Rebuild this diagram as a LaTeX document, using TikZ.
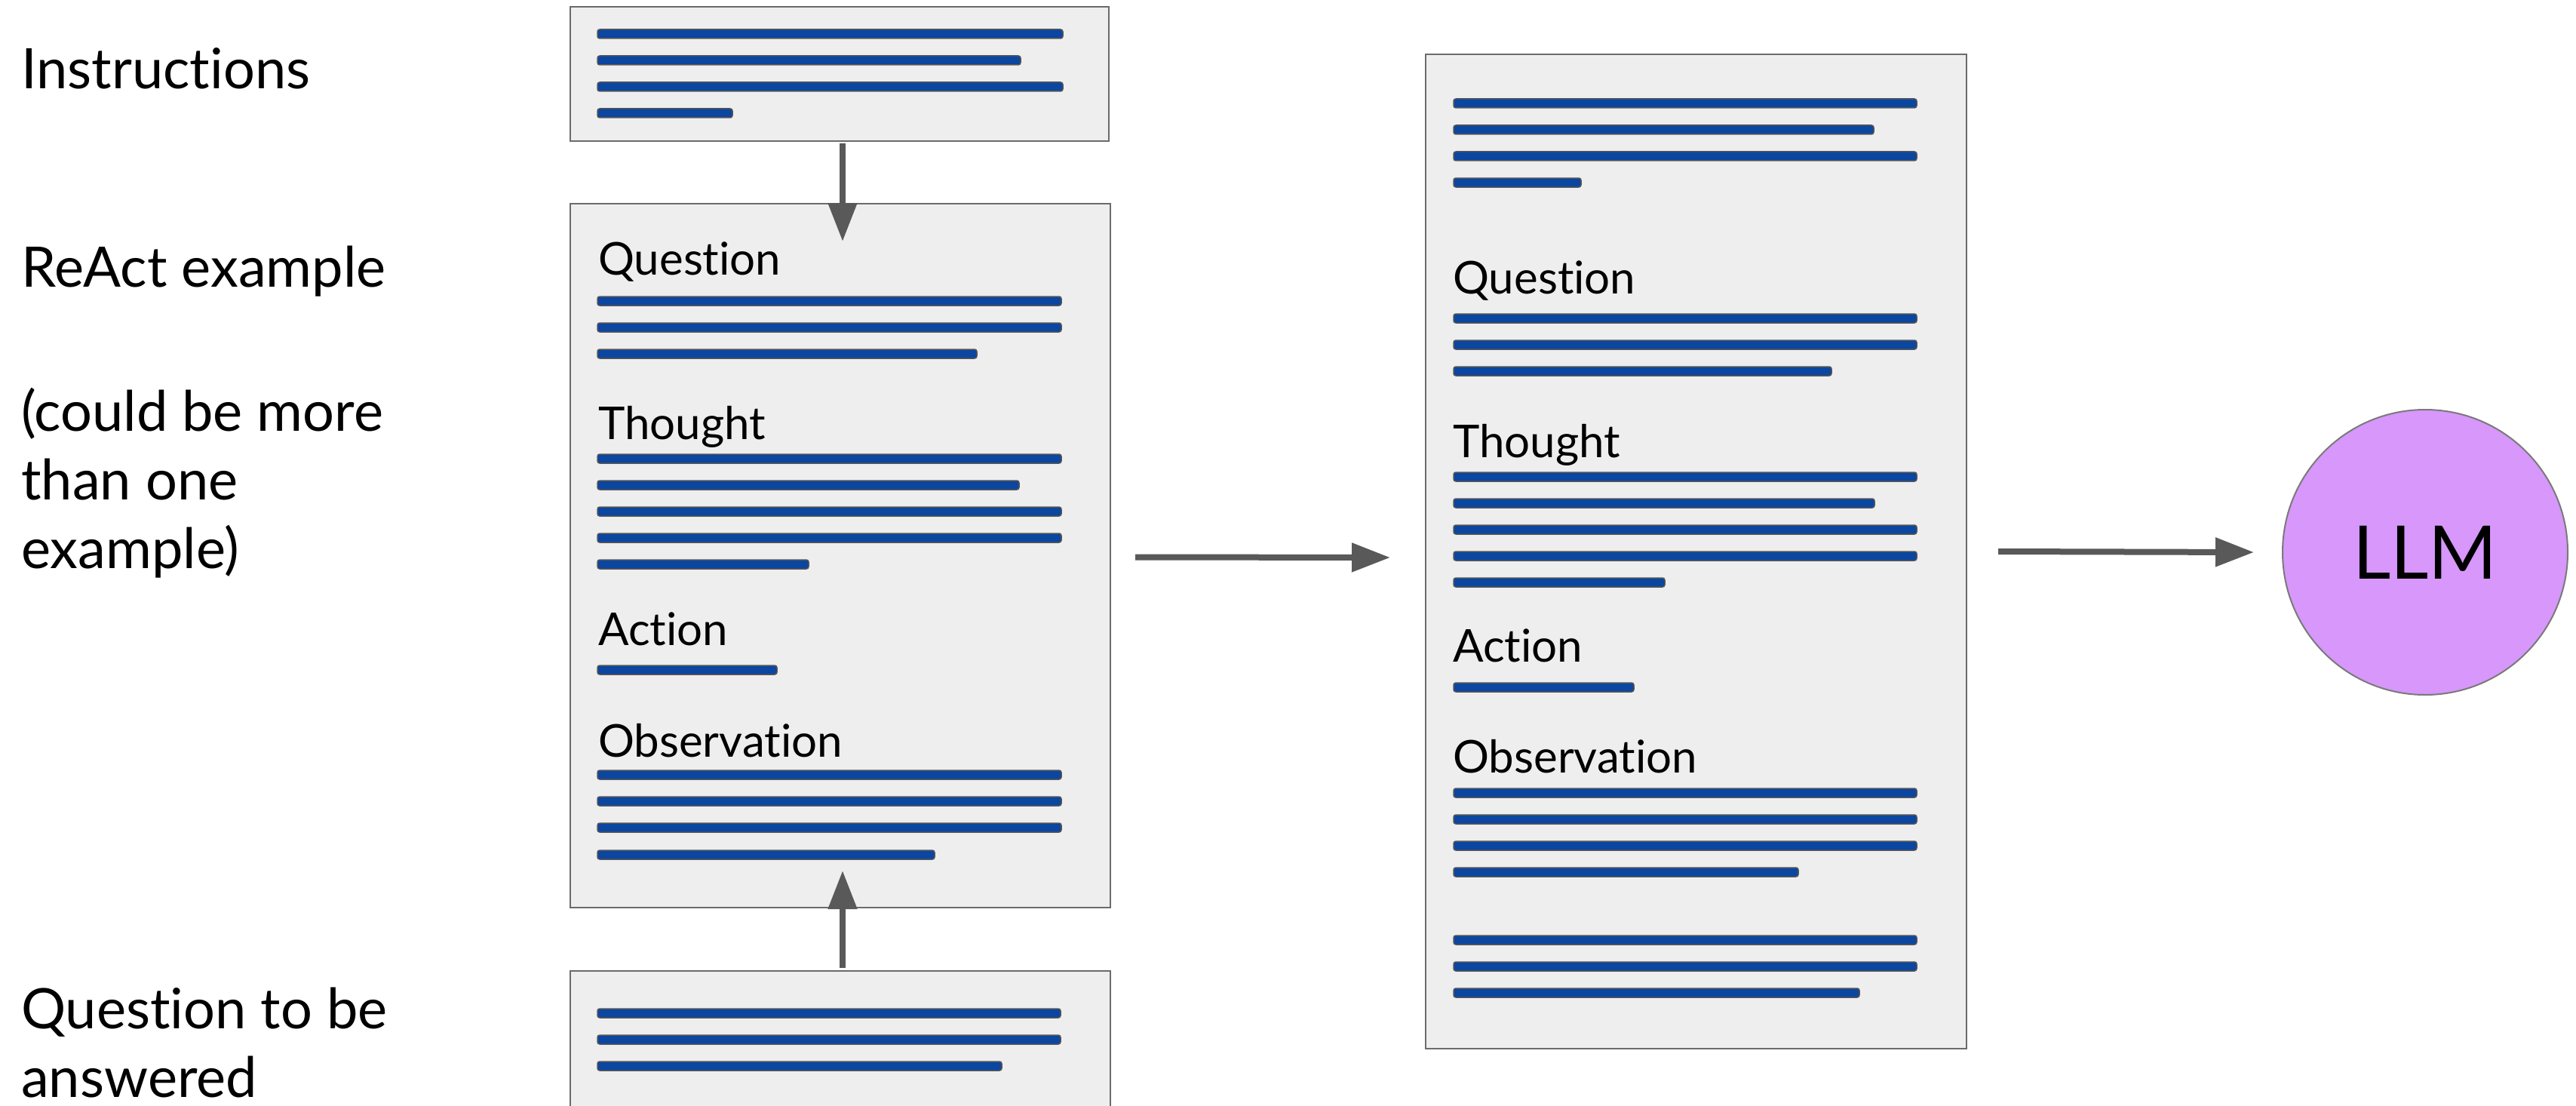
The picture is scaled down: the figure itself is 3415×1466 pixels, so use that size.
\documentclass[tikz,border=0pt]{standalone}
\usepackage{fontspec}
\setmainfont{Lato}[Ligatures={NoCommon,NoContextual}]
\usetikzlibrary{arrows.meta}
\definecolor{boxfill}{HTML}{EEEEEE}
\definecolor{boxline}{HTML}{6B6B6B}
\definecolor{barblue}{HTML}{0B46A0}
\definecolor{barline}{HTML}{555555}
\definecolor{arrowgray}{HTML}{595959}
\definecolor{llmfill}{HTML}{D797FB}
\definecolor{llmline}{HTML}{7A7A7A}
\newcommand{\tbar}[3]{\draw[textbar] (#1,#3-6) rectangle (#2,#3+6);}
\begin{document}
\begin{tikzpicture}[x=1pt,y=-1pt,
  docbox/.style={draw=boxline, line width=2.5pt, fill=boxfill, anchor=north west, inner sep=0pt, outer sep=0pt},
  textbar/.style={fill=barblue, draw=barline, line width=1.5pt, rounded corners=3pt},
  lbl/.style={anchor=base west, inner sep=0pt, font=\fontsize{60}{72}\selectfont},
  side/.style={anchor=base west, inner sep=0pt, align=left, font=\fontsize{74}{91}\selectfont},
  flow/.style={draw=arrowgray, line width=8pt, -{Triangle[length=51pt,width=37pt]}}]
\useasboundingbox[fill=white] (0,0) rectangle (3415,1466);

% left labels (base anchor = last line)
\node[side] (l1) at (28,118) {Instructions};
\node[side] (l2) at (28,380) {ReAct example};
\node[side] (l3) at (28,753) {(could be more\\than one\\example)};
\node[side] (l4) at (28,1454) {Question to be\\answered};

% boxes
\node[docbox, minimum width=714pt, minimum height=178pt] (instr) at (756,9) {};
\node[docbox, minimum width=716pt, minimum height=933pt] (react) at (756,270) {};
\node[docbox, minimum width=717pt, minimum height=1318pt] (full) at (1890,72) {};
\node[docbox, minimum width=716pt, minimum height=260pt] (qbox) at (756,1287) {};
\node[circle, draw=llmline, line width=2pt, fill=llmfill, minimum size=378pt, inner sep=0pt,
      font=\fontsize{98}{110}\selectfont] (llm) at (3215,732) {LLM};

% instructions box
\tbar{792}{1409}{45}\tbar{792}{1353}{80}\tbar{792}{1409}{115}\tbar{792}{971}{150}

% react example box
\node[lbl] (q2) at (793,364) {Question};
\tbar{792}{1407}{399}\tbar{792}{1407}{434}\tbar{792}{1295}{469}
\node[lbl] (t2) at (793,582) {Thought};
\tbar{792}{1407}{608}\tbar{792}{1351}{643}\tbar{792}{1407}{678}\tbar{792}{1407}{713}\tbar{792}{1072}{748}
\node[lbl] (a2) at (793,855) {Action};
\tbar{792}{1030}{888}
\node[lbl] (o2) at (793,1003) {Observation};
\tbar{792}{1407}{1027}\tbar{792}{1407}{1062}\tbar{792}{1407}{1097}\tbar{792}{1239}{1133}

% full prompt box
\tbar{1927}{2541}{137}\tbar{1927}{2484}{172}\tbar{1927}{2541}{207}\tbar{1927}{2096}{242}
\node[lbl] (q3) at (1926,389) {Question};
\tbar{1927}{2541}{422}\tbar{1927}{2541}{457}\tbar{1927}{2428}{492}
\node[lbl] (t3) at (1926,606) {Thought};
\tbar{1927}{2541}{632}\tbar{1927}{2485}{667}\tbar{1927}{2541}{702}\tbar{1927}{2541}{737}\tbar{1927}{2207}{772}
\node[lbl] (a3) at (1926,877) {Action};
\tbar{1927}{2166}{911}
\node[lbl] (o3) at (1926,1024) {Observation};
\tbar{1927}{2541}{1051}\tbar{1927}{2541}{1086}\tbar{1927}{2541}{1121}\tbar{1927}{2384}{1156}
\tbar{1927}{2541}{1246}\tbar{1927}{2541}{1281}\tbar{1927}{2465}{1316}

% question box
\tbar{792}{1406}{1343}\tbar{792}{1406}{1378}\tbar{792}{1328}{1413}

% connectors
\draw[flow] ([xshift=4pt,yshift=-3pt]instr.south) -- ([xshift=3pt,yshift=-50pt]react.north);
\draw[flow] ([xshift=3pt,yshift=4pt]qbox.north) -- ([xshift=3pt,yshift=49pt]react.south);
\draw[flow] ([xshift=33pt,yshift=-2pt]react.east) -- ([xshift=-47pt,yshift=-8pt]full.west);
\draw[flow] ([xshift=42pt]full.east) -- ([xshift=-37pt]llm.west);
\end{tikzpicture}
\end{document}
